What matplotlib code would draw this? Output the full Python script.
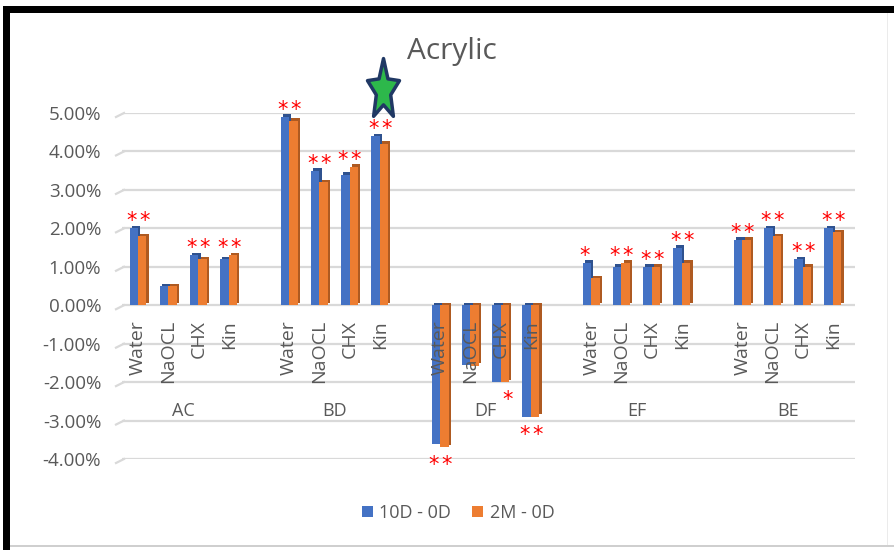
import matplotlib
matplotlib.use("Agg")
import numpy as np
import matplotlib.pyplot as plt
from matplotlib.path import Path
from matplotlib.patches import Rectangle, Patch
from matplotlib.transforms import offset_copy

# ---------------- data ----------------
groups = ["AC", "BD", "DF", "EF", "BE"]
treatments = ["Water", "NaOCL", "CHX", "Kin"]
series_names = ["10D - 0D", "2M - 0D"]
vals_10d = [2.0, 0.5, 1.3, 1.2,
            4.9, 3.5, 3.4, 4.4,
            -3.6, -1.55, -2.0, -2.9,
            1.1, 1.0, 1.0, 1.5,
            1.7, 2.0, 1.2, 2.0]
vals_2m = [1.8, 0.5, 1.2, 1.3,
           4.8, 3.2, 3.6, 4.2,
           -3.7, -1.58, -2.0, -2.9,
           0.7, 1.1, 1.0, 1.1,
           1.7, 1.8, 1.0, 1.9]
sig_10d = ["*", "", "*", "*",
           "*", "*", "*", "*",
           "*", "", "", "*",
           "*", "*", "*", "*",
           "*", "*", "*", "*"]
sig_2m = ["*", "", "*", "*",
          "*", "*", "*", "*",
          "*", "", "*", "*",
          "", "*", "*", "*",
          "*", "*", "*", "*"]
star_group, star_treatment = "BD", "Kin"
y_ticks = [5, 4, 3, 2, 1, 0, -1, -2, -3, -4]
title = "Acrylic"

# ---------------- style ----------------
W, H = 895, 550
FONT = "Open Sans"
GRAY = "#595959"
GRID = "#D9D9D9"
BLUE, BLUE_D = "#4472C4", "#2F528F"
ORANGE, ORANGE_D = "#ED7D31", "#AE5A21"

plt.rcParams["font.family"] = [FONT, "DejaVu Sans"]

fig = plt.figure(figsize=(W / 100, H / 100), dpi=100)
fig.patch.set_facecolor("white")

ax_l, ax_r, ax_t, ax_b = 122, 855, 113, 459
ax = fig.add_axes([ax_l / W, 1 - ax_b / H, (ax_r - ax_l) / W, (ax_b - ax_t) / H])
ax.set_facecolor("none")

ng, nt = len(groups), len(treatments)
pos = np.array([g * (nt + 1) + t for g in range(ng) for t in range(nt)], dtype=float)
ax.set_xlim(-0.53, 23.73)
ax.set_ylim(-4, 5)

for s in ax.spines.values():
    s.set_visible(False)
ax.set_yticks(y_ticks)
ax.set_yticklabels([f"{v:.2f}%" for v in y_ticks], color=GRAY, fontsize=13.5)
ax.tick_params(axis="y", length=0, pad=15)
ax.set_xticks([])
ax.yaxis.grid(True, color=GRID, lw=1.6, zorder=0)
ax.set_axisbelow(True)

# small slanted starts of the gridlines (3D floor look)
for v in y_ticks:
    x0, y0 = ax.transData.transform((-0.53, v))
    ax.add_line(plt.Line2D([x0 - 6, x0 + 2], [y0 - 4, y0], transform=None,
                           color=GRID, lw=1.6, clip_on=False))

bw = 0.28
dx, dy = 0.075, 0.065
for vals, off, fc, dc, z in [(vals_10d, -0.14, BLUE, BLUE_D, 2),
                              (vals_2m, 0.14, ORANGE, ORANGE_D, 4)]:
    vals = np.array(vals)
    ax.bar(pos + off + dx, vals, width=bw, bottom=dy, color=dc, zorder=z, lw=0)
    ax.bar(pos + off, vals, width=bw, color=fc, zorder=z + 1, lw=0)

# significance asterisks
for i in range(len(pos)):
    a, b = vals_10d[i], vals_2m[i]
    if max(a, b) > 0:
        yv, oy = max(a, b), -3
    else:
        yv, oy = min(a, b), -28
    for sig, ox in [(sig_10d[i], -6.5), (sig_2m[i], 6.5)]:
        if sig:
            tr = offset_copy(ax.transData, fig=fig, x=ox, y=oy, units="dots")
            ax.text(pos[i], yv, sig, transform=tr, color="#FF0000", fontsize=15,
                    ha="center", va="bottom", family="DejaVu Sans", zorder=10,
                    clip_on=False)

# category labels
for i in range(len(pos)):
    tr = offset_copy(ax.transData, fig=fig, x=0, y=-15, units="dots")
    ax.text(pos[i], 0, treatments[i % nt], transform=tr, rotation=90,
            ha="center", va="top", color=GRAY, fontsize=14, zorder=12,
            clip_on=False)

for g in range(ng):
    cx = g * (nt + 1) + (nt - 1) / 2
    tr = offset_copy(ax.transData, fig=fig, x=0, y=-106, units="dots")
    ax.text(cx, 0, groups[g], transform=tr, ha="center", va="center",
            color=GRAY, fontsize=13, zorder=12, clip_on=False)

# star marker
R_in = 0.45
verts = []
for k in range(10):
    ang = np.pi / 2 + k * np.pi / 5
    r = 1.0 if k % 2 == 0 else R_in
    verts.append((r * np.cos(ang), 1.9 * r * np.sin(ang)))
verts.append(verts[0])
codes = [Path.MOVETO] + [Path.LINETO] * 9 + [Path.CLOSEPOLY]
star_path = Path(verts, codes)
si = groups.index(star_group) * nt + treatments.index(star_treatment)
sy = max(vals_10d[si], vals_2m[si])
tr = offset_copy(ax.transData, fig=fig, x=3, y=46, units="dots")
ax.plot([pos[si]], [sy], marker=star_path, ms=46, mfc="#2DB84B", mec="#203864",
        mew=2.5, transform=tr, clip_on=False, zorder=20, ls="none")

# title
fig.text(452 / W, 1 - 51 / H, title, ha="center", va="center", color=GRAY,
         fontsize=21.5)

# legend
handles = [Patch(facecolor=BLUE, lw=0), Patch(facecolor=ORANGE, lw=0)]
fig.legend(handles, series_names, loc="center", bbox_to_anchor=(458 / W, 1 - 513 / H),
           ncol=2, frameon=False, fontsize=13, handlelength=0.6, handleheight=0.6,
           handletextpad=0.35, columnspacing=1.2, labelcolor=GRAY)

# frame
def px_rect(x, y, w, h, color):
    fig.add_artist(Rectangle((x / W, 1 - (y + h) / H), w / W, h / H,
                             transform=fig.transFigure, color=color, lw=0))

px_rect(3, 6, W - 3, 7, "black")
px_rect(3, 6, 7, H - 6, "black")
px_rect(10, 545, W - 10, 2, "#CFCFCF")
px_rect(887, 13, 1, 532, "#EBEBEB")

fig.savefig("out.png", dpi=100, facecolor="white")
